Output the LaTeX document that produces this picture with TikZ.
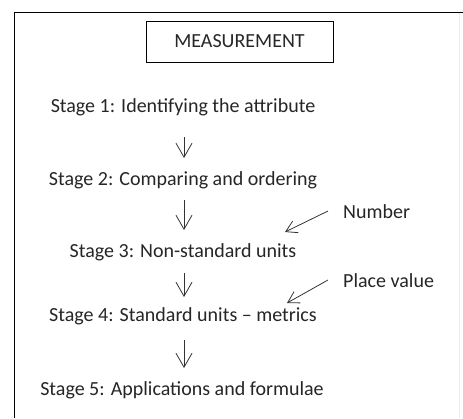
\documentclass[tikz,border=0pt]{standalone}
\usepackage{fontspec}
\setmainfont{Carlito}
\usetikzlibrary{arrows.meta}
\begin{document}
\begin{tikzpicture}[x=1pt,y=-1pt,
  txt/.style={inner sep=0pt, font=\fontsize{20}{22}\selectfont, text=black!85},
  flow/.style={draw=black!80, line width=0.8pt, -{Straight Barb[length=14pt,width=16pt,line width=0.8pt]}},
  side/.style={draw=black!80, line width=0.8pt, -{Straight Barb[length=11pt,width=13pt,line width=0.8pt]}}]
\useasboundingbox (0,0) rectangle (463,418);
\fill[white] (0,0) rectangle (463,418);
% frame
\draw[line width=1.2pt] (14.5,418) -- (14.5,12.5) -- (463,12.5);
\draw[black!8, line width=0.6pt] (459,12.5) -- (459,418);
% title
\node[txt, draw=black, line width=0.9pt, minimum width=187pt, minimum height=41pt] (title) at (239.5,41.5) {MEASUREMENT};
% stages
\node[txt] (s1) at (183,107) {Stage 1: Identifying the attribute};
\node[txt] (s2) at (183,180) {Stage 2: Comparing and ordering};
\node[txt] (s3) at (183,252) {Stage 3: Non-standard units};
\node[txt] (s4) at (183,316) {Stage 4: Standard units -- metrics};
\node[txt] (s5) at (182,390) {Stage 5: Applications and formulae};
% side notes
\node[txt, anchor=west] (num) at (343,212) {Number};
\node[txt, anchor=west] (pv) at (343,281) {Place value};
\coordinate (n1) at (328,211);
\coordinate (n2) at (285,232);
\coordinate (p1) at (328,280);
\coordinate (p2) at (287,303);
% arrows
\draw[flow] (184,137) -- (184,158);
\draw[flow] (184,200) -- (184,230);
\draw[flow] (184,273) -- (184,297);
\draw[flow] (184,340) -- (184,368);
\draw[side] (n1) -- (n2);
\draw[side] (p1) -- (p2);
\end{tikzpicture}
\end{document}
